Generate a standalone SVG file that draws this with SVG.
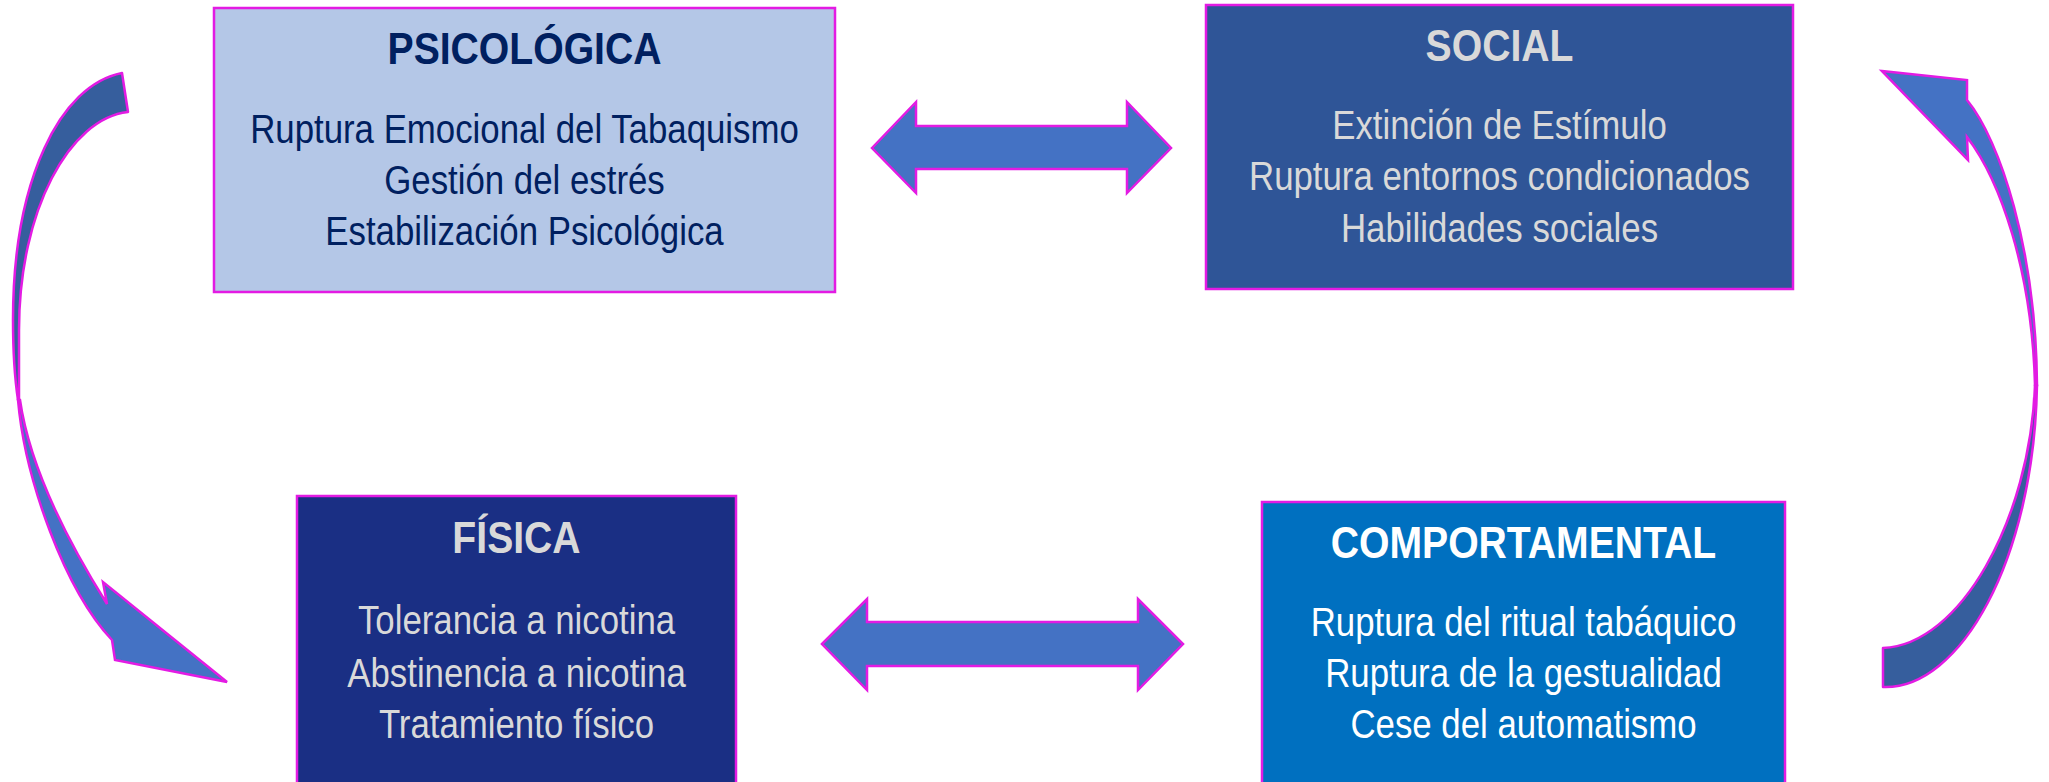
<svg xmlns="http://www.w3.org/2000/svg" width="2049" height="782" viewBox="0 0 2049 782">
<style>
.box{stroke:#E31BE3;stroke-width:2.5}
.arr{fill:#4472C4;stroke:#E31BE3;stroke-width:2.5;stroke-linejoin:miter}
.back{fill:#365E9D;stroke:#E31BE3;stroke-width:2.5;stroke-linejoin:round}
text{font-family:"Liberation Sans",Arial,sans-serif;text-anchor:middle}
.t{font-size:45px;font-weight:bold}
.b{font-size:40px}
.navy{fill:#002060}
.grey{fill:#D9D9D9}
.white{fill:#FFFFFF}
</style>
<rect width="2049" height="782" fill="#FFFFFF"/>
<g id="connectors">
<path class="arr" d="M872,148 L916,102 L916,126 L1127,126 L1127,102 L1171,148 L1127,193 L1127,169 L916,169 L916,193 Z"/>
<path class="arr" d="M822,644 L867,599 L867,622 L1138,622 L1138,599 L1183,644 L1138,690 L1138,666 L867,666 L867,690 Z"/>
<g id="curved-left">
<path class="back" d="M122,73 C60,85 13,180 13,320 C13,350 15,380 18,400 L19,400 C19,380 19,350 19,330 C19,210 70,118 128,112 Z"/>
<path class="arr" d="M18,400 C25,480 65,590 112,640 L115,660 L227,682 L103,582 L107,604 C70,545 30,470 20,400 Z"/>
</g>
<g id="curved-right">
<path class="arr" d="M1882,71 L1967,80 L1967,100 C2000,140 2036,250 2037,385 L2035,385 C2032,270 2000,180 1967,137 L1968,160 Z"/>
<path class="back" d="M2037,385 C2034,560 1960,690 1883,687 L1883,648 C1960,645 2030,520 2035,385 Z"/>
</g>
</g>
<g id="psicologica">
<rect class="box" x="214" y="8" width="621" height="284" fill="#B4C7E7"/>
<text class="t navy" transform="translate(524.5,0) scale(0.87,1)" x="0" y="64">PSICOLÓGICA</text>
<text class="b navy" transform="translate(524.5,0) scale(0.87,1)" x="0" y="143">Ruptura Emocional del Tabaquismo</text>
<text class="b navy" transform="translate(524.5,0) scale(0.87,1)" x="0" y="194">Gestión del estrés</text>
<text class="b navy" transform="translate(524.5,0) scale(0.87,1)" x="0" y="245">Estabilización Psicológica</text>
</g>
<g id="social">
<rect class="box" x="1206" y="5" width="587" height="284" fill="#2F5597"/>
<text class="t grey" transform="translate(1499.5,0) scale(0.87,1)" x="0" y="61">SOCIAL</text>
<text class="b grey" transform="translate(1499.5,0) scale(0.87,1)" x="0" y="139">Extinción de Estímulo</text>
<text class="b grey" transform="translate(1499.5,0) scale(0.87,1)" x="0" y="190">Ruptura entornos condicionados</text>
<text class="b grey" transform="translate(1499.5,0) scale(0.87,1)" x="0" y="242">Habilidades sociales</text>
</g>
<g id="fisica">
<rect class="box" x="297" y="496" width="439" height="300" fill="#1A2F84"/>
<text class="t grey" transform="translate(516.5,0) scale(0.87,1)" x="0" y="553">FÍSICA</text>
<text class="b grey" transform="translate(516.5,0) scale(0.87,1)" x="0" y="634">Tolerancia a nicotina</text>
<text class="b grey" transform="translate(516.5,0) scale(0.87,1)" x="0" y="687">Abstinencia a nicotina</text>
<text class="b grey" transform="translate(516.5,0) scale(0.87,1)" x="0" y="738">Tratamiento físico</text>
</g>
<g id="comportamental">
<rect class="box" x="1262" y="502" width="523" height="300" fill="#0070C0"/>
<text class="t white" transform="translate(1523.5,0) scale(0.87,1)" x="0" y="558">COMPORTAMENTAL</text>
<text class="b white" transform="translate(1523.5,0) scale(0.87,1)" x="0" y="636">Ruptura del ritual tabáquico</text>
<text class="b white" transform="translate(1523.5,0) scale(0.87,1)" x="0" y="687">Ruptura de la gestualidad</text>
<text class="b white" transform="translate(1523.5,0) scale(0.87,1)" x="0" y="738">Cese del automatismo</text>
</g>
</svg>
